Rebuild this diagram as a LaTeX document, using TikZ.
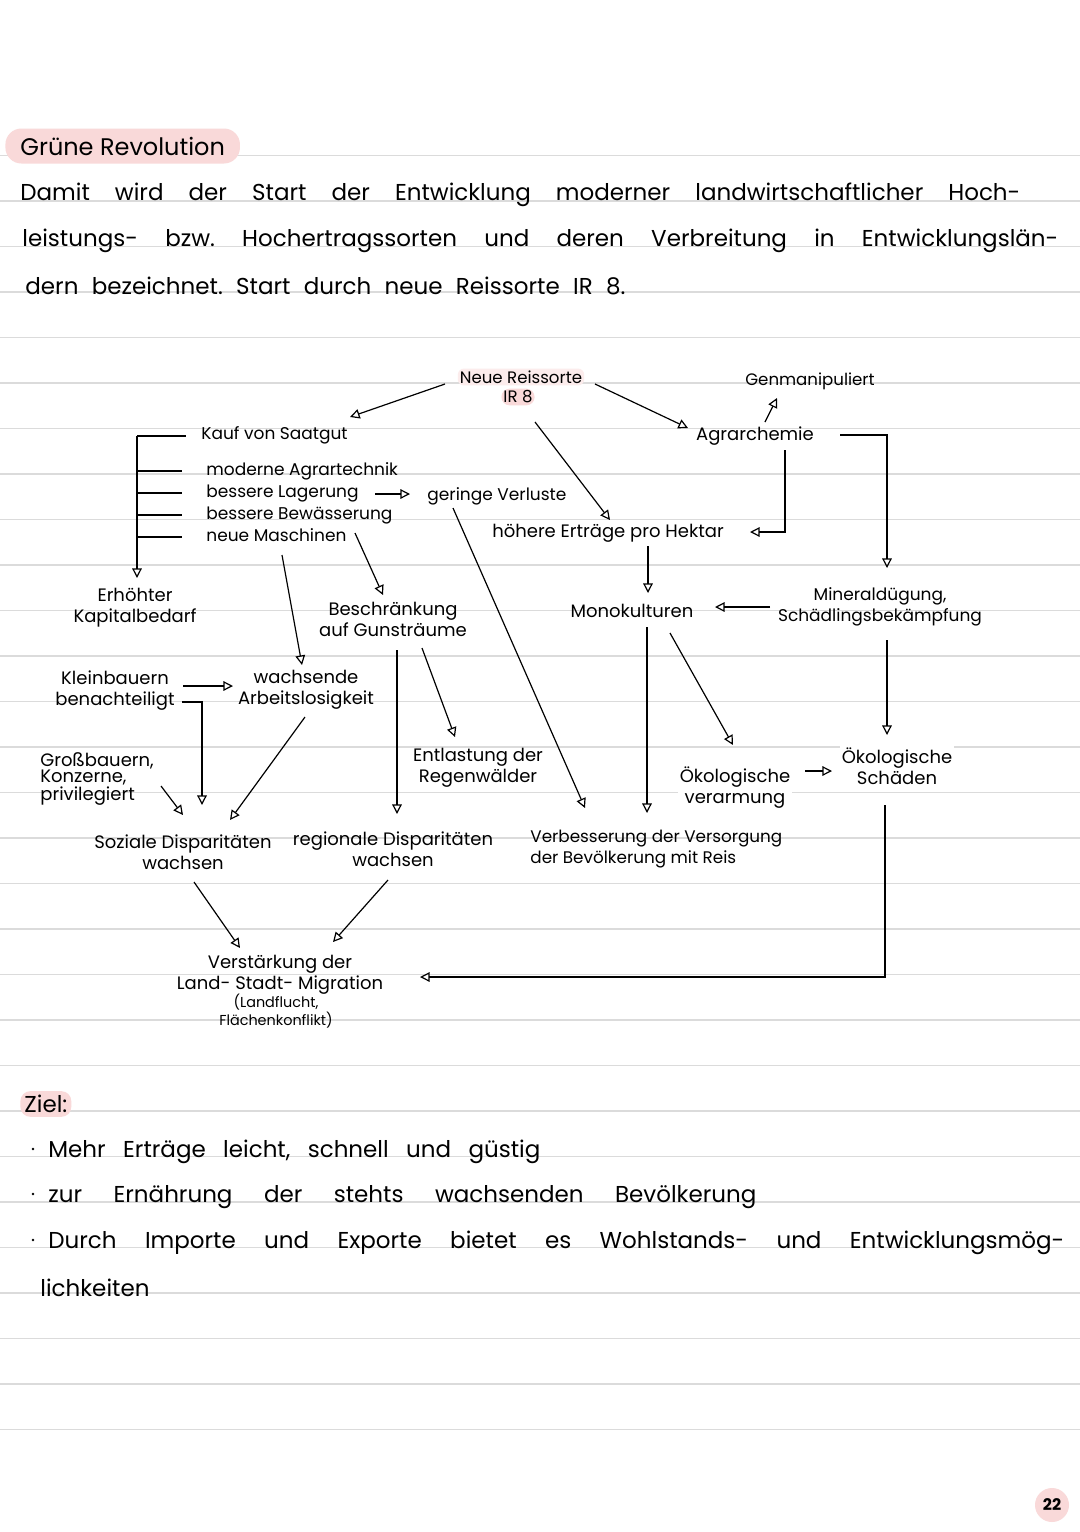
\documentclass[tikz,border=0pt]{standalone}
\usepackage{fontspec}
\setmainfont{Poppins}
\usetikzlibrary{arrows.meta,calc}
\definecolor{hl}{RGB}{249,217,217}
\definecolor{hllight}{RGB}{252,236,236}
\definecolor{rule}{RGB}{219,219,219}
\frenchspacing
\begin{document}
\begin{tikzpicture}[x=0.5pt,y=-0.5pt,
	lbl/.style={font=\fontsize{9}{10.5}\selectfont, inner sep=1pt, align=center},
	item/.style={lbl, font=\fontsize{8.5}{10.5}\selectfont, anchor=west, text height=6.3pt, text depth=1.8pt},
	arr/.style={line width=0.6pt, -{Triangle[open,length=4.8pt,width=4.8pt]}},
	ln/.style={line width=0.6pt},
	body/.style={font=\fontsize{11.5}{13}\selectfont, anchor=west, inner sep=0pt}]
		\pgfmathsetmacro{\gap}{45.5}
		\fill[white] (0,0) rectangle (1080,1532);
		\useasboundingbox (0,0) rectangle (1080,1532);
		\foreach \k in {0,...,28}
			\draw[rule, line width=0.9pt] (0,{155.5+\k*\gap}) -- (1080,{155.5+\k*\gap});
		\node[body, font=\fontsize{12}{13}\selectfont, fill=hl, rounded corners=8pt, minimum height=17.5pt, inner xsep=7.5pt] (titel) at (5,146) {Grüne Revolution};
		\node[body] (p1) at (20,195) {\makebox[500pt][s]{Damit wird der Start der Entwicklung moderner landwirtschaftlicher Hoch-}};
		\node[body] (p2) at (22,241) {\makebox[518pt][s]{leistungs- bzw. Hochertragssorten und deren Verbreitung in Entwicklungslän-}};
		\node[body] (p3) at (25,286) {\makebox[300pt][s]{dern bezeichnet. Start durch neue Reissorte IR 8.}};
		\node[lbl, fill=hllight, rounded corners=3pt, font=\fontsize{8.3}{9}\selectfont] (reis) at (521,377) {Neue Reissorte};
		\node[lbl, fill=hl, rounded corners=4pt, font=\fontsize{8.3}{9}\selectfont] (ir) at (518,397) {IR 8};
		\node[lbl, font=\fontsize{8.3}{9}\selectfont] (gen) at (810,381) {Genmanipuliert};
		\node[lbl] (chemie) at (755,436) {Agrarchemie};
		\node[item] (kauf) at (199,435) {Kauf von Saatgut};
		\node[item] (technik) at (204,471) {moderne Agrartechnik};
		\node[item] (lager) at (204,493) {bessere Lagerung};
		\node[item] (wasser) at (204,515) {bessere Bewässerung};
		\node[item] (masch) at (204,537) {neue Maschinen};
		\node[item] (verlust) at (425,496) {geringe Verluste};
		\node[lbl] (ertrag) at (608,533) {höhere Erträge pro Hektar};
		\node[lbl] (kapital) at (135,608) {Erhöhter\\Kapitalbedarf};
		\node[lbl] (gunst) at (393,619) {Beschränkung\\auf Gunsträume};
		\node[lbl] (mono) at (632,611) {Monokulturen};
		\node[lbl, font=\fontsize{8.5}{10.5}\selectfont] (mineral) at (880,607) {Mineraldügung,\\Schädlingsbekämpfung};
		\node[lbl] (klein) at (115,691) {Kleinbauern\\benachteiligt};
		\node[lbl] (arbeit) at (306,690) {wachsende\\Arbeitslosigkeit};
		\node[lbl] (regen) at (478,768) {Entlastung der\\Regenwälder};
		\node[lbl, anchor=west, align=left, font=\fontsize{9}{8}\selectfont] (gross) at (38,779) {Großbauern,\\Konzerne,\\privilegiert};
		\node[lbl, fill=white] (verarm) at (735,788) {Ökologische\\verarmung};
		\node[lbl, fill=white] (schaden) at (897,766) {Ökologische\\Schäden};
		\node[lbl] (sozial) at (183,852) {Soziale Disparitäten\\wachsen};
		\node[lbl] (regional) at (393,849) {regionale Disparitäten\\wachsen};
		\node[lbl, anchor=west, align=left, font=\fontsize{8.4}{10.5}\selectfont] (versorg) at (528,849) {Verbesserung der Versorgung\\der Bevölkerung mit Reis};
		\node[lbl] (migration) at (280,975) {Verstärkung der\\Land- Stadt- Migration};
		\node[lbl, font=\fontsize{7.2}{6.5}\selectfont] (flucht) at (276,1011) {(Landflucht,\\Flächenkonflikt)};
		\draw[arr] ($(reis)+(-76,7)$) -- ($(kauf.west)+(151,-18)$);
		\draw[arr] ($(reis)+(74,7)$) -- ($(chemie)+(-67,-8)$);
		\draw[arr] ($(ir)+(17,25)$) -- ($(ertrag)+(2,-13)$);
		\draw[arr] ($(chemie)+(10,-14)$) -- ($(gen)+(-33,17)$);
		\draw[arr] ($(chemie)+(30,14)$) |- ($(ertrag)+(142,-1)$);
		\draw[arr] ($(chemie)+(85,-1)$) -| ($(mineral)+(7,-39)$);
		\draw[arr] ($(kauf.west)+(-62,1)$) -- ($(kapital)+(2,-30)$);
		\draw[ln] ($(kauf.west)+(-62,1)$) -- ($(kauf.west)+(-13,1)$);
		\foreach \n in {technik,lager,wasser,masch}
			\draw[ln] ($(\n.west)+(-67,0)$) -- ($(\n.west)+(-22,0)$);
		\draw[arr] ($(lager.west)+(171,1)$) -- ($(verlust.west)+(-15,-2)$);
		\draw[arr] ($(masch.west)+(151,-4)$) -- ($(gunst)+(-10,-24)$);
		\draw[arr] ($(masch.west)+(78,18)$) -- ($(arbeit)+(-4,-25)$);
		\draw[arr] ($(verlust.west)+(28,12)$) -- ($(versorg.west)+(57,-41)$);
		\draw[arr] ($(ertrag)+(40,13)$) -- ($(mono)+(16,-18)$);
		\draw[arr] ($(mineral)+(-110,0)$) -- ($(mono)+(83,-4)$);
		\draw[arr] ($(mineral)+(7,33)$) -- ($(schaden)+(-10,-31)$);
		\draw[arr] ($(mono)+(15,16)$) -- ($(versorg.west)+(119,-36)$);
		\draw[arr] ($(mono)+(38,22)$) -- ($(verarm)+(-2,-43)$);
		\draw[arr] ($(verarm)+(70,-17)$) -- ($(schaden)+(-65,5)$);
		\draw[arr] ($(gunst)+(4,31)$) -- ($(regional)+(4,-35)$);
		\draw[arr] ($(gunst)+(29,29)$) -- ($(regen)+(-23,-31)$);
		\draw[arr] ($(klein)+(68,-5)$) -- ($(arbeit)+(-73,-4)$);
		\draw[arr] ($(klein)+(67,11)$) -| ($(sozial)+(19,-47)$);
		\draw[arr] ($(gross.west)+(123,7)$) -- ($(sozial)+(0,-37)$);
		\draw[arr] ($(arbeit)+(-1,27)$) -- ($(sozial)+(47,-32)$);
		\draw[arr] ($(sozial)+(11,30)$) -- ($(migration)+(-40,-27)$);
		\draw[arr] ($(regional)+(-5,31)$) -- ($(migration)+(53,-33)$);
		\draw[arr] ($(schaden)+(-12,39)$) |- ($(migration)+(140,2)$);
		\node[body, fill=hl, rounded corners=5pt, inner sep=2pt] (ziel) at (20,1104) {Ziel:};
		\node[body] (b1) at (48,1152) {\makebox[246pt][s]{Mehr Erträge leicht, schnell und güstig}};
		\node[body] (b2) at (48,1197) {\makebox[354pt][s]{zur Ernährung der stehts wachsenden Bevölkerung}};
		\node[body] (b3) at (48,1243) {\makebox[508pt][s]{Durch Importe und Exporte bietet es Wohlstands- und Entwicklungsmög-}};
		\node[body] (b4) at (40,1288) {lichkeiten};
		\foreach \b in {b1,b2,b3}
			\fill ($(\b.west)+(-15,-3)$) circle (1.3);
		\node[circle, fill=hl, inner sep=0pt, minimum size=17pt, font=\fontsize{8}{8}\selectfont\bfseries] (seite) at (1052,1505) {22};
	\end{tikzpicture}
\end{document}
